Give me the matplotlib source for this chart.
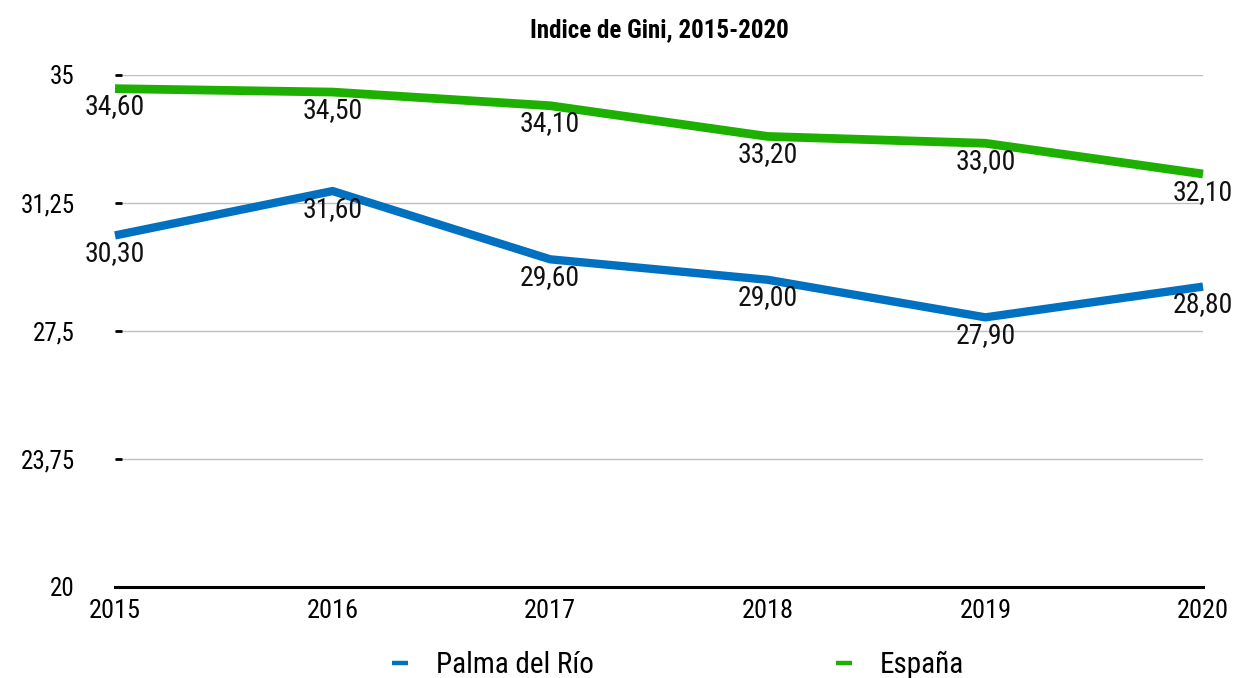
import matplotlib
matplotlib.use("Agg")
import matplotlib.pyplot as plt
from matplotlib import font_manager as fm
from matplotlib.lines import Line2D

years = [2015, 2016, 2017, 2018, 2019, 2020]
palma = [30.3, 31.6, 29.6, 29.0, 27.9, 28.8]
espana = [34.6, 34.5, 34.1, 33.2, 33.0, 32.1]
series_names = ["Palma del Río", "España"]
yticks = [20, 23.75, 27.5, 31.25, 35]
ytick_labels = ["20", "23,75", "27,5", "31,25", "35"]
title = "Indice de Gini, 2015-2020"

avail = {f.name for f in fm.fontManager.ttflist}
fams = [f for f in ["Roboto Condensed", "Liberation Sans Narrow", "Roboto"] if f in avail] + ["DejaVu Sans"]
plt.rcParams['font.family'] = fams

fig = plt.figure(figsize=(12.35, 6.78), dpi=100)
ax = fig.add_axes([115/1235, 1-587/678, (1203-115)/1235, (587-75)/678])

blue = "#0070c0"
green = "#1db000"
ax.plot(years, palma, color=blue, lw=6, solid_capstyle="butt", clip_on=False)
ax.plot(years, espana, color=green, lw=6.3, solid_capstyle="butt", clip_on=False)

def fmt(v):
    return f"{v:.2f}".replace(".", ",")

for vals in (palma, espana):
    for x, v in zip(years, vals):
        ax.annotate(fmt(v), (x, v), xytext=(0, -13), textcoords="offset points",
                    ha="center", va="center", fontsize=20, color="#111111")

ax.set_xlim(2015, 2020)
ax.set_ylim(20, 35)
ax.set_yticks(yticks)
ax.set_yticklabels(ytick_labels)
ax.set_xticks(years)
ax.set_xticklabels([str(y) for y in years])
ax.grid(axis="y", color="#bfbfbf", lw=1)
ax.set_axisbelow(True)
for s in ["top", "right", "left"]:
    ax.spines[s].set_visible(False)
ax.spines["bottom"].set_color("black")
ax.spines["bottom"].set_linewidth(2.2)
ax.tick_params(axis="y", length=5, width=2, direction="in", pad=29, labelsize=18, colors="black")
ax.tick_params(axis="x", length=0, pad=9, labelsize=19)

ax.set_title(title, fontsize=18, fontweight="bold", pad=27)

handles = [Line2D([], [], color=blue, lw=3.2, solid_capstyle="butt"),
           Line2D([], [], color=green, lw=3.2, solid_capstyle="butt")]
leg = fig.legend(handles=handles, labels=series_names, loc="center", bbox_to_anchor=(678/1235, 1-665/678), ncol=2,
                 frameon=False, fontsize=21, handlelength=0.55, columnspacing=8.3, handletextpad=0.95)

fig.savefig("out.png", dpi=100)
